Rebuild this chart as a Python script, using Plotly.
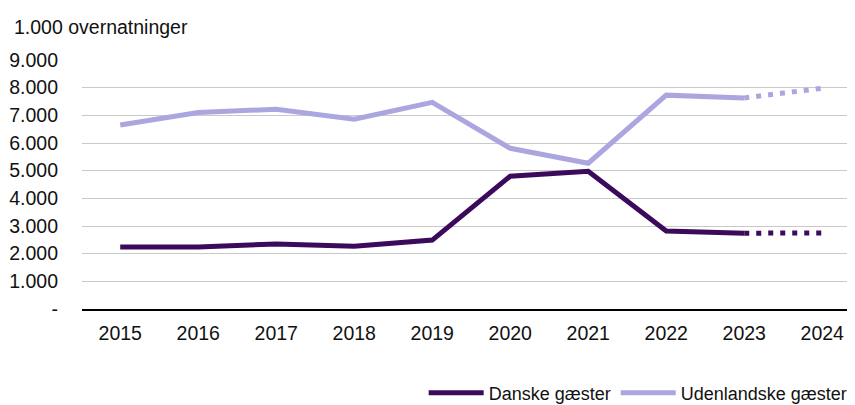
import plotly.graph_objects as go

# Data (1.000 overnatninger)
aar = ["2015", "2016", "2017", "2018", "2019", "2020", "2021", "2022", "2023", "2024"]
danske = [2240, 2240, 2350, 2270, 2490, 4800, 4980, 2820, 2740, 2750]
udenlandske = [6650, 7100, 7220, 6860, 7470, 5810, 5270, 7730, 7630, 7980]

y_ticks = [0, 1000, 2000, 3000, 4000, 5000, 6000, 7000, 8000, 9000]
y_labels = ["-", "1.000", "2.000", "3.000", "4.000", "5.000", "6.000", "7.000", "8.000", "9.000"]

MORK = "#3b0a5c"
LYS = "#aba6e0"

x = list(range(len(aar)))

fig = go.Figure()
# solide linjer frem til 2023
fig.add_trace(go.Scatter(x=x[:9], y=danske[:9], name="Danske gæster", mode="lines",
                         line=dict(color=MORK, width=5)))
fig.add_trace(go.Scatter(x=x[:9], y=udenlandske[:9], name="Udenlandske gæster", mode="lines",
                         line=dict(color=LYS, width=5)))
# prognose 2023-2024 prikket
fig.add_trace(go.Scatter(x=x[8:], y=danske[8:], mode="lines", showlegend=False,
                         line=dict(color=MORK, width=5, dash="5px,7px")))
fig.add_trace(go.Scatter(x=x[8:], y=udenlandske[8:], mode="lines", showlegend=False,
                         line=dict(color=LYS, width=5, dash="5px,7px")))

# siden har 8px body-margen, saa figuren goeres 8px mindre
fig.update_layout(
    width=847, height=397,
    margin=dict(l=74, r=0, t=52, b=96, autoexpand=False),
    paper_bgcolor="white", plot_bgcolor="white",
    font=dict(family="Liberation Sans, Arial", size=19.5, color="#111111"),
    showlegend=True,
    legend=dict(orientation="h", xanchor="left", x=0.442, yref="container", y=0.03, yanchor="middle",
                font=dict(size=18), traceorder="normal", itemwidth=55),
    annotations=[dict(text="1.000 overnatninger", xref="paper", yref="paper", x=0, y=1,
                      xshift=-70, yshift=20, showarrow=False, xanchor="left", yanchor="bottom",
                      font=dict(size=19.5))],
)
fig.update_xaxes(range=[-0.49, 9.42], tickvals=x, ticktext=aar, showgrid=False, automargin=False,
                 showline=True, linecolor="black", linewidth=2, ticks="", zeroline=False,
                 ticklabelstandoff=6)
fig.update_yaxes(range=[0, 9000], tickvals=y_ticks, ticktext=y_labels, showgrid=True, automargin=False,
                 gridcolor="#c9c9c9", gridwidth=1, zeroline=False, ticks="", ticklabelstandoff=23)

fig.write_html("out.html")
